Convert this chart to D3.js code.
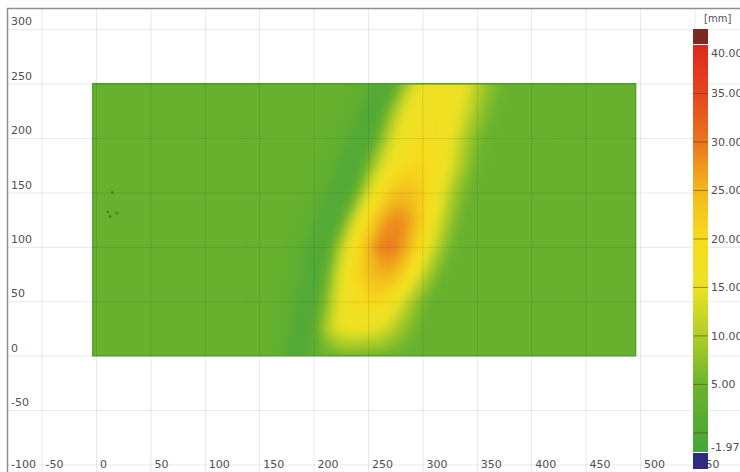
<!DOCTYPE html>
<html>
<head>
<meta charset="UTF-8">
<title>Deformation map</title>
<style>
  body { margin: 0; background: #fff; }
  svg { display: block; font-family: "DejaVu Sans", Verdana, sans-serif; }
  .lbl { font-size: 11px; fill: #505050; }
</style>
<script src="https://d3js.org/d3.v7.min.js"></script>
</head>
<body>
<div id="chart"></div>
<script>
// axis ticks
const xTicks = [-50, 0, 50, 100, 150, 200, 250, 300, 350, 400, 450, 500, 550];
const yTicks = [-100, -50, 0, 50, 100, 150, 200, 250, 300];

// measured deviation [mm], sampled every 10 mm in x (150..420) and 25 mm in y
const gridX = [150, 160, 170, 180, 190, 200, 210, 220, 230, 240, 250, 260, 270, 280,
               290, 300, 310, 320, 330, 340, 350, 360, 370, 380, 390, 400, 410, 420];
const gridY = [0, 25, 50, 75, 100, 125, 150, 175, 200, 225, 250];

const row0   = [4, 4, 3, 1, 0.5, 3, 5, 5.5, 6, 6, 5.5, 5.5, 5, 4.5, 4, 4, 4, 4, 4, 4, 4, 4, 4, 4, 4, 4, 4, 4];
const row25  = [4, 4, 3.5, 2, 0, 3, 9, 14, 15.5, 16, 15.5, 14.5, 12, 9, 6.5, 4.5, 4, 4, 4, 4, 4, 4, 4, 4, 4, 4, 4, 4];
const row50  = [4, 4, 3.5, 2.5, 0.5, 1, 6, 13, 17, 19.5, 21, 21, 18.5, 14.5, 10, 6.5, 4.5, 4, 4, 4, 4, 4, 4, 4, 4, 4, 4, 4];
const row75  = [4, 4, 4, 3.5, 2, 0, 3, 11, 17, 21, 24, 25.5, 25.5, 23, 18, 12.5, 8, 5, 4, 4, 4, 4, 4, 4, 4, 4, 4, 4];
const row100 = [4, 4, 4, 3.5, 2.5, 0.5, 0.5, 7, 14, 20, 25, 29, 30, 28.5, 24, 19, 13, 8, 5, 4, 4, 4, 4, 4, 4, 4, 4, 4];
const row125 = [4, 4, 4, 4, 3.5, 2.5, 0.5, 0.5, 7, 14.5, 20, 25, 28, 28.5, 26.5, 22, 17, 11, 7, 4.5, 4, 4, 4, 4, 4, 4, 4, 4];
const row150 = [4, 4, 4, 4, 4, 3.5, 2.5, 0.5, 0.5, 6, 13, 18.5, 22.5, 24.5, 24, 22, 18, 14, 9, 6, 4.5, 4, 4, 4, 4, 4, 4, 4];
const row175 = [4, 4, 4, 4, 4, 4, 3.5, 2.5, 0.5, 0.5, 6, 12, 16, 19, 21, 21, 19.5, 16.5, 12.5, 8.5, 5.5, 4.5, 4, 4, 4, 4, 4, 4];
const row200 = [4, 4, 4, 4, 4, 4, 4, 3.5, 2.5, 0.5, 0.5, 6, 12, 16, 18, 19, 18.5, 17, 14, 10, 6.5, 5, 4, 4, 4, 4, 4, 4];
const row225 = [4, 4, 4, 4, 4, 4, 4, 4, 3.5, 2.5, 0, 1, 7, 13, 16.5, 17.5, 18, 17.5, 16, 13, 9.5, 6.5, 5, 4, 4, 4, 4, 4];
const row250 = [4, 4, 4, 4, 4, 4, 4, 4, 4, 3.5, 2.5, 0.5, 0.5, 6, 12, 16, 17, 17, 16.5, 15, 11, 8, 6, 4.5, 4, 4, 4, 4];
const rows = [row0, row25, row50, row75, row100, row125, row150, row175, row200, row225, row250];

// small dark specks near the left edge
const specks = [[15, 150], [11, 132], [19, 131], [13, 128]];

// colour bar
const colorTicks = [35, 30, 25, 20, 15, 10, 5, 0];
const colorLabels = [40, 35, 30, 25, 20, 15, 10, 5, -1.97];

const width = 740, height = 472;
const svg = d3.select("#chart").append("svg")
    .attr("width", width)
    .attr("height", height);

const x = d3.scaleLinear().domain([0, 500]).range([96, 640]);
const y = d3.scaleLinear().domain([0, 300]).range([355.7, 29.3]);
const cy = d3.scaleLinear().domain([-1.97, 40]).range([452, 45]);

const color = d3.scaleLinear()
    .domain([-1.97, 0, 4, 5, 10, 15, 20, 25, 30, 35, 40])
    .range(["#45a63b", "#4fa937", "#67b12e", "#6cb42d", "#b0cd28", "#ebe224",
            "#f6dc1e", "#f2b81d", "#e9761f", "#e4461f", "#e0261d"])
    .clamp(true);

const defs = svg.append("defs");

// heat map, clipped to the measured plate
defs.append("clipPath").attr("id", "plate")
  .append("rect")
    .attr("x", x(-3)).attr("y", y(250))
    .attr("width", x(496) - x(-3)).attr("height", y(0) - y(250));
defs.append("filter").attr("id", "soft")
    .attr("x", "-5%").attr("y", "-5%").attr("width", "110%").attr("height", "110%")
  .append("feGaussianBlur").attr("stdDeviation", 3);

const heat = svg.append("g").attr("clip-path", "url(#plate)");
heat.append("rect")
    .attr("x", x(-3)).attr("y", y(250))
    .attr("width", x(496) - x(-3)).attr("height", y(0) - y(250))
    .attr("fill", color(4));

const values = rows.flat();
const contours = d3.contours()
    .size([gridX.length, gridY.length])
    .thresholds(d3.range(-2, 31, 0.5))(values);

const stepX = gridX[1] - gridX[0], stepY = gridY[1] - gridY[0];
const toPlate = d3.geoTransform({
  point(gx, gy) {
    this.stream.point(x(gridX[0] + (gx - 0.5) * stepX), y(gridY[0] + (gy - 0.5) * stepY));
  }
});
const path = d3.geoPath(toPlate);

heat.append("g").attr("filter", "url(#soft)")
  .selectAll("path")
  .data(contours)
  .join("path")
    .attr("d", path)
    .attr("fill", d => color(d.value));

heat.selectAll("circle")
  .data(specks)
  .join("circle")
    .attr("cx", d => x(d[0])).attr("cy", d => y(d[1]))
    .attr("r", 1.4)
    .attr("fill", "#2f8a3c");

svg.append("rect")
    .attr("x", x(-3)).attr("y", y(250))
    .attr("width", x(496) - x(-3)).attr("height", y(0) - y(250))
    .attr("fill", "none")
    .attr("stroke", "#58a42c")
    .attr("stroke-width", 1.5);

// grid on top, faint
const grid = svg.append("g").attr("stroke", "#000").attr("stroke-opacity", 0.09);
grid.selectAll(".v").data(xTicks).join("line").attr("class", "v")
    .attr("x1", d => x(d) + 0.5).attr("x2", d => x(d) + 0.5)
    .attr("y1", 9).attr("y2", height);
grid.selectAll(".h").data(yTicks).join("line").attr("class", "h")
    .attr("y1", d => y(d) + 0.5).attr("y2", d => y(d) + 0.5)
    .attr("x1", 8).attr("x2", width);

// frame
svg.append("line").attr("x1", 7).attr("x2", width).attr("y1", 8.5).attr("y2", 8.5)
    .attr("stroke", "#8f8f8f").attr("stroke-width", 1.5);
svg.append("line").attr("x1", 7.5).attr("x2", 7.5).attr("y1", 8).attr("y2", height)
    .attr("stroke", "#8f8f8f").attr("stroke-width", 1.5);

// tick labels
svg.append("g").selectAll("text").data(xTicks).join("text")
    .attr("class", "lbl")
    .attr("x", d => x(d) + 4).attr("y", 468)
    .text(d => d);
svg.append("g").selectAll("text").data(yTicks).join("text")
    .attr("class", "lbl")
    .attr("x", 11)
    .attr("y", d => d === yTicks[0] ? 468 : y(d) - 4)
    .text(d => d);

// colour bar
const grad = defs.append("linearGradient").attr("id", "cbar")
    .attr("x1", 0).attr("y1", 1).attr("x2", 0).attr("y2", 0);
grad.selectAll("stop").data(color.domain()).join("stop")
    .attr("offset", d => (d - cy.domain()[0]) / (cy.domain()[1] - cy.domain()[0]))
    .attr("stop-color", d => color(d));

const cb = svg.append("g");
cb.append("rect").attr("x", 693).attr("y", 29).attr("width", 15).attr("height", 15)
    .attr("fill", "#7b2a22");
cb.append("rect").attr("x", 693).attr("y", cy(40)).attr("width", 15)
    .attr("height", cy(-1.97) - cy(40))
    .attr("fill", "url(#cbar)");
cb.append("rect").attr("x", 693).attr("y", 453).attr("width", 15).attr("height", 16)
    .attr("fill", "#2f2c7e");
cb.selectAll(".tk").data(colorTicks).join("line").attr("class", "tk")
    .attr("x1", 693).attr("x2", 708)
    .attr("y1", d => cy(d)).attr("y2", d => cy(d))
    .attr("stroke", "#5a3a10").attr("stroke-opacity", 0.55);
cb.selectAll(".cl").data(colorLabels).join("text").attr("class", "lbl cl")
    .attr("x", 711)
    .attr("y", d => d === 40 ? cy(d) + 12 : d === -1.97 ? cy(d) - 1 : cy(d) + 4)
    .text(d => d.toFixed(2));
cb.append("text").attr("class", "lbl")
    .attr("x", 704).attr("y", 22)
    .style("font-size", "10px")
    .text("[mm]");
</script>
</body>
</html>
